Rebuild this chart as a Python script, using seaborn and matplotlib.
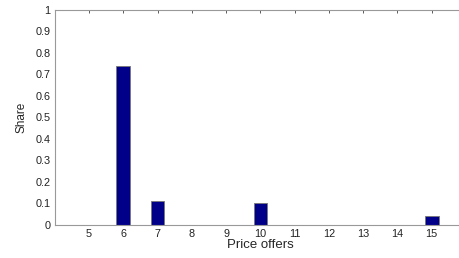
import matplotlib
matplotlib.use("Agg")
import matplotlib.pyplot as plt
import seaborn as sns
import pandas as pd

price_offers = [6, 7, 10, 15]
shares = [0.74, 0.113, 0.104, 0.040]
x_ticks = [5, 6, 7, 8, 9, 10, 11, 12, 13, 14, 15]
y_ticks = [0, 0.1, 0.2, 0.3, 0.4, 0.5, 0.6, 0.7, 0.8, 0.9, 1]
y_ticklabels = ["0", "0.1", "0.2", "0.3", "0.4", "0.5", "0.6", "0.7", "0.8", "0.9", "1"]

sns.set_theme(style="white")
plt.rcParams["font.family"] = ["Liberation Sans", "DejaVu Sans"]

df = pd.DataFrame({"Price offers": price_offers, "Share": shares})

fig = plt.figure(figsize=(4.6, 2.58), dpi=100)
ax = fig.add_axes([0.119, 0.128, 0.894, 0.835])

sns.barplot(data=df, x="Price offers", y="Share", native_scale=True, width=0.4,
            color="#000088", saturation=1, edgecolor="#777777", linewidth=0.6, ax=ax)

ax.set_xlim(4, 16)
ax.set_ylim(0, 1)
ax.set_xticks(x_ticks)
ax.set_xticklabels([str(t) for t in x_ticks])
ax.set_yticks(y_ticks)
ax.set_yticklabels(y_ticklabels)
ax.tick_params(direction="in", length=2.5, width=0.6, color="#404040",
               top=True, right=True, labelsize=7.8, pad=3, labelcolor="#222222")
for s in ax.spines.values():
    s.set_color("#999999")
    s.set_linewidth(0.8)
ax.set_xlabel("Price offers", fontsize=9.5, labelpad=0)
ax.set_ylabel("Share", fontsize=8.5, labelpad=6)

fig.savefig("out.png", dpi=100)
